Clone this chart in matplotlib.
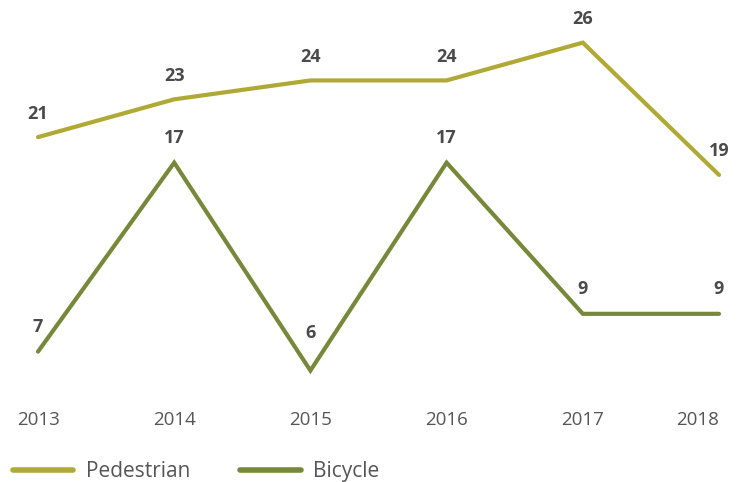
import matplotlib
matplotlib.use("Agg")
import matplotlib.pyplot as plt
from matplotlib.lines import Line2D

years = [2013, 2014, 2015, 2016, 2017, 2018]
pedestrian = [21, 23, 24, 24, 26, 19]
bicycle = [7, 17, 6, 17, 9, 9]

PED_COLOR = "#b0a935"
BIKE_COLOR = "#76893a"
TEXT = "#4a4a4a"

plt.rcParams["font.family"] = ["Open Sans", "DejaVu Sans"]

fig = plt.figure(figsize=(7.39, 4.82), dpi=100)
ax = fig.add_axes([38 / 739, 0.1909, (719 - 38) / 739, 0.7469])
ax2 = ax.twinx()

# each series has its own baseline (same units per pixel)
ax.set_ylim(7.62, 26.67)
ax2.set_ylim(4.97, 24.02)
ax.set_xlim(2013, 2018)

ax.plot(years, pedestrian, color=PED_COLOR, lw=3, clip_on=False,
        solid_capstyle="round", solid_joinstyle="miter")
ax2.plot(years, bicycle, color=BIKE_COLOR, lw=3, clip_on=False,
         solid_capstyle="round", solid_joinstyle="miter")

for x, v in zip(years, pedestrian):
    ax.annotate(str(v), (x, v), xytext=(0, 17), textcoords="offset points",
                ha="center", va="center", fontsize=13, fontweight="bold",
                color=TEXT, annotation_clip=False)
for x, v in zip(years, bicycle):
    off = 27 if v == min(bicycle) else 18
    ax2.annotate(str(v), (x, v), xytext=(0, off), textcoords="offset points",
                 ha="center", va="center", fontsize=13, fontweight="bold",
                 color=TEXT, annotation_clip=False)

for a in (ax, ax2):
    for s in a.spines.values():
        s.set_visible(False)
    a.set_yticks([])
ax.set_xticks(years)
ax.set_xticklabels([str(y) for y in years], fontsize=13.5, color="#555555")
ax.get_xticklabels()[-1].set_ha("right")
ax.tick_params(axis="x", length=0, pad=15)

handles = [Line2D([], [], color=PED_COLOR, lw=4, solid_capstyle="round"),
           Line2D([], [], color=BIKE_COLOR, lw=4, solid_capstyle="round")]
fig.legend(handles, ["Pedestrian", "Bicycle"], loc="center left",
           bbox_to_anchor=(-0.008, 0.022), ncol=2, frameon=False, fontsize=15,
           handlelength=2.9, handletextpad=0.6, columnspacing=2.4,
           labelcolor="#555555")

fig.savefig("out.png", dpi=100, facecolor="white")
